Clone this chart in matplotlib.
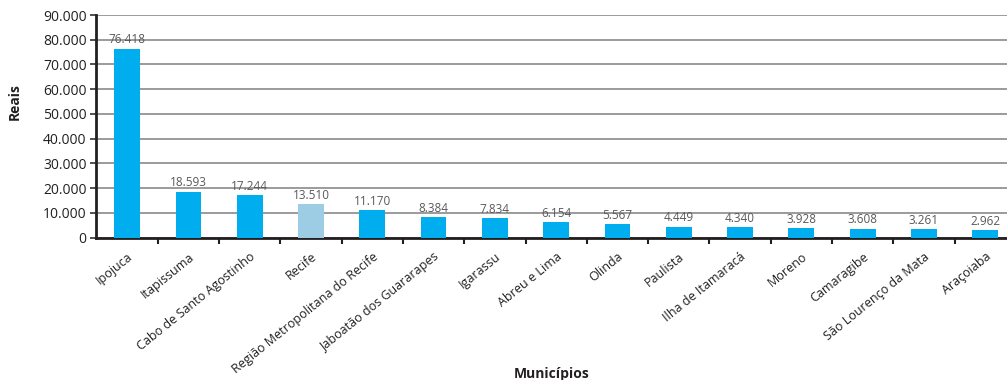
import numpy as np
import matplotlib.pyplot as plt
from matplotlib.transforms import ScaledTranslation

municipios = ['Ipojuca', 'Itapissuma', 'Cabo de Santo Agostinho', 'Recife',
              'Região Metropolitana do Recife', 'Jaboatão dos Guararapes',
              'Igarassu', 'Abreu e Lima', 'Olinda', 'Paulista',
              'Ilha de Itamaracá', 'Moreno', 'Camaragibe',
              'São Lourenço da Mata', 'Araçoiaba']
reais = [76418, 18593, 17244, 13510, 11170, 8384, 7834, 6154, 5567,
         4449, 4340, 3928, 3608, 3261, 2962]
destaque = 'Recife'
yticks = np.arange(0, 90001, 10000)


def br(v):
    return f"{v:,.0f}".replace(',', '.')


plt.rcParams['font.family'] = ['Open Sans', 'DejaVu Sans']

fig = plt.figure(figsize=(10.07, 3.8), dpi=100)
ax = fig.add_axes([0.0958, 0.375, 0.9042, 0.5855])

x = np.arange(len(municipios))
cores = ['#9ccde4' if m == destaque else '#00aeef' for m in municipios]
ax.bar(x, reais, width=0.42, color=cores, zorder=3)

for xi, v in zip(x, reais):
    ax.text(xi, v + 900, br(v), ha='center', va='bottom', fontsize=8.5,
            color='#58595b', zorder=4)

ax.set_xlim(-0.5, 14.355)
ax.set_ylim(0, 90000)
ax.set_yticks(yticks)
ax.set_yticklabels([br(v) for v in yticks], fontsize=10, color='#231f20')
ax.yaxis.grid(True, color='#808080', linewidth=1.1, zorder=0)

ax.set_xticks(x)
ax.set_xticklabels(municipios, rotation=39, ha='right', rotation_mode='anchor',
                   fontsize=9, color='#231f20')
shift = ScaledTranslation(-2 / 72, 0, fig.dpi_scale_trans)
for lbl in ax.get_xticklabels():
    lbl.set_transform(lbl.get_transform() + shift)
ax.set_xticks(x[:-1] + 0.5, minor=True)
ax.tick_params(axis='x', which='major', length=0, pad=9)
ax.tick_params(axis='x', which='minor', length=4, width=1.5, color='#231f20')
ax.tick_params(axis='y', length=4, width=1.1, color='#231f20', pad=3)

for s in ['top', 'right']:
    ax.spines[s].set_visible(False)
for s in ['left', 'bottom']:
    ax.spines[s].set_color('#231f20')
    ax.spines[s].set_linewidth(2)

ax.set_ylabel('Reais', fontsize=10, fontweight='bold', color='#231f20')
ax.yaxis.set_label_coords(-0.082, 0.61)
ax.set_xlabel('Municípios', fontsize=10, fontweight='bold', color='#231f20')
ax.xaxis.set_label_coords(0.5, -0.58)

fig.savefig('out.png', dpi=100)
